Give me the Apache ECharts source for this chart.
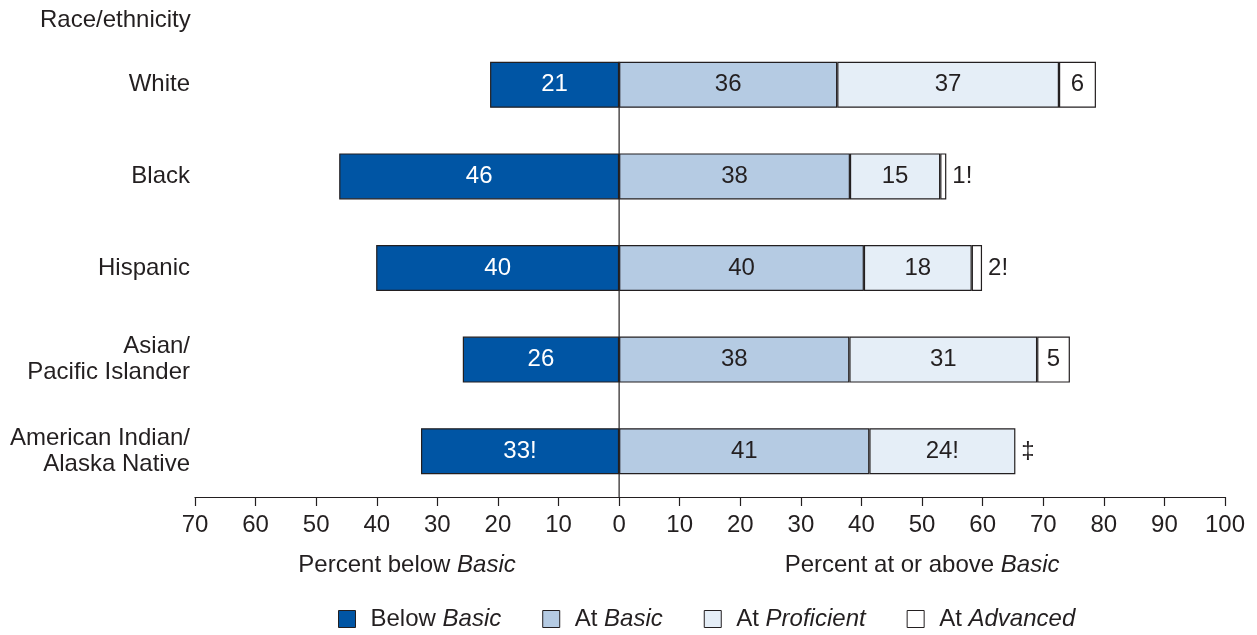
<!DOCTYPE html>
<html>
<head>
<meta charset="utf-8">
<script src="https://cdn.jsdelivr.net/npm/echarts@6/dist/echarts.min.js"></script>
<style>
html,body{margin:0;padding:0;background:#fff;}
#chart{width:1257px;height:635px;}
</style>
</head>
<body>
<div id="chart"></div>
<script>
const categories = ['White', 'Black', 'Hispanic', 'Asian/\nPacific Islander', 'American Indian/\nAlaska Native'];
const belowBasic   = [21.3, 46.2, 40.1, 25.8, 32.7];
const atBasic      = [36.0, 38.1, 40.4, 38.0, 41.3];
const atProficient = [36.6, 14.9, 17.8, 31.0, 24.1];
const atAdvanced   = [6.1, 1.0, 1.7, 5.4, 0];
const belowLabels = ['21', '46', '40', '26', '33!'];
const basicLabels = ['36', '38', '40', '38', '41'];
const profLabels  = ['37', '15', '18', '31', '24!'];
const advLabels   = ['6', '1!', '2!', '5', '‡'];
const advInside   = [true, false, false, true, false];
const seriesNames = ['Below Basic', 'At Basic', 'At Proficient', 'At Advanced'];
const legendParts = [['Below ', 'Basic'], ['At ', 'Basic'], ['At ', 'Proficient'], ['At ', 'Advanced']];
const axisTitles = [['Percent below ', 'Basic', -35], ['Percent at or above ', 'Basic', 50]];

const FONT = '"Liberation Sans", Arial, Helvetica, sans-serif';
const INK = '#231f20';
const colors = ['#0055a4', '#b5cbe3', '#e5eef7', '#ffffff'];
const FS = 24;

const chart = echarts.init(document.getElementById('chart'));

function barSeries(idx, values, labels, labelColor) {
  return {
    name: seriesNames[idx],
    type: 'bar',
    stack: 'total',
    barWidth: 46,
    itemStyle: { color: colors[idx], borderColor: INK, borderWidth: 1.2 },
    label: {
      show: true, position: 'inside', color: labelColor,
      fontFamily: FONT, fontSize: FS,
      formatter: p => labels[p.dataIndex]
    },
    emphasis: { disabled: true },
    data: values
  };
}

const advData = atAdvanced.map((v, i) => ({
  value: v,
  label: { position: advInside[i] ? 'inside' : 'right', distance: 6 },
  itemStyle: v === 0 ? { borderWidth: 0, color: 'rgba(0,0,0,0)' } : {}
}));

const option = {
  animation: false,
  backgroundColor: '#fff',
  textStyle: { fontFamily: FONT, color: INK },
  title: {
    text: 'Race/ethnicity', left: 40, top: 8, padding: 0,
    textStyle: { fontFamily: FONT, fontSize: FS, fontWeight: 'normal', color: INK }
  },
  grid: { left: 195, right: 32, top: 39, bottom: 138, containLabel: false },
  xAxis: {
    type: 'value', min: -70, max: 100, interval: 10,
    axisLine: { show: true, lineStyle: { color: INK, width: 1.2 } },
    axisTick: { show: true, length: 9, lineStyle: { color: INK, width: 1.2 } },
    axisLabel: { color: INK, fontFamily: FONT, fontSize: FS, margin: 16, formatter: v => String(Math.abs(v)) },
    splitLine: { show: false }
  },
  yAxis: {
    type: 'category', data: categories, inverse: true,
    axisLine: { show: false }, axisTick: { show: false },
    axisLabel: { color: INK, fontFamily: FONT, fontSize: FS, lineHeight: 26, margin: 5, align: 'right' }
  },
  legend: {
    top: 602, left: 333, itemWidth: 17, itemHeight: 17, itemGap: 41,
    icon: 'rect',
    itemStyle: { borderColor: INK, borderWidth: 1 },
    data: seriesNames,
    formatter: name => {
      const k = seriesNames.indexOf(name);
      return '{n|' + legendParts[k][0] + '}{i|' + legendParts[k][1] + '}';
    },
    textStyle: {
      fontFamily: FONT, fontSize: FS, color: INK, padding: [0, 0, 0, 10],
      rich: {
        n: { fontFamily: FONT, fontSize: FS, color: INK },
        i: { fontFamily: FONT, fontSize: FS, color: INK, fontStyle: 'italic' }
      }
    }
  },
  series: [
    barSeries(0, belowBasic.map(v => -v), belowLabels, '#ffffff'),
    barSeries(1, atBasic, basicLabels, INK),
    barSeries(2, atProficient, profLabels, INK),
    barSeries(3, advData, advLabels, INK)
  ]
};
chart.setOption(option);

// zero line and axis titles positioned from the axes
const yTop = chart.convertToPixel({ yAxisIndex: 0 }, categories[0]);
const yNext = chart.convertToPixel({ yAxisIndex: 0 }, categories[1]);
const band = yNext - yTop;
const yBottom = chart.convertToPixel({ yAxisIndex: 0 }, categories[categories.length - 1]) + band / 2;
const x0 = chart.convertToPixel({ xAxisIndex: 0 }, 0);
const graphics = [{
  type: 'line', z: 100,
  shape: { x1: x0, y1: yTop - 23, x2: x0, y2: yBottom },
  style: { stroke: INK, lineWidth: 1.2 }
}];
axisTitles.forEach(t => {
  const cx = chart.convertToPixel({ xAxisIndex: 0 }, t[2]);
  graphics.push({
    type: 'text', x: cx, y: yBottom + 68,
    style: {
      text: '{n|' + t[0] + '}{i|' + t[1] + '}',
      align: 'center', verticalAlign: 'middle',
      rich: {
        n: { fontFamily: FONT, fontSize: FS, fill: INK },
        i: { fontFamily: FONT, fontSize: FS, fill: INK, fontStyle: 'italic' }
      }
    }
  });
});
chart.setOption({ graphic: graphics });
</script>
</body>
</html>
